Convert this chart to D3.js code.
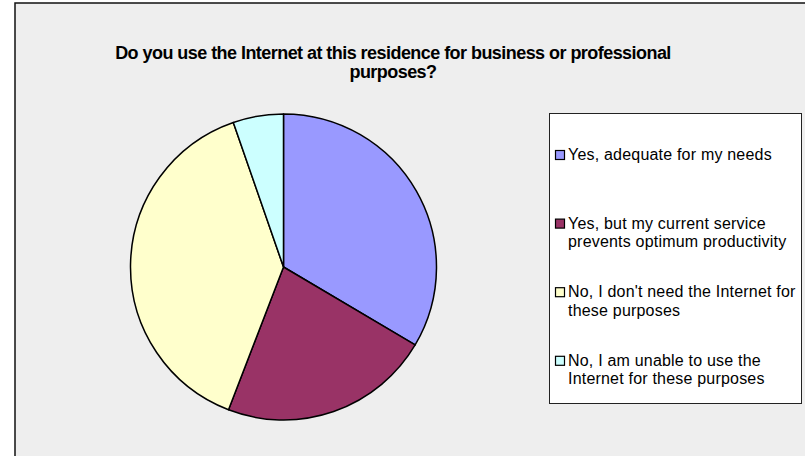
<!DOCTYPE html>
<html>
<head>
<meta charset="utf-8">
<script src="https://cdn.jsdelivr.net/npm/d3@7"></script>
<style>
  body { margin: 0; background: #fff; }
  svg { display: block; }
</style>
</head>
<body>
<svg id="chart" width="805" height="456"></svg>
<script>
const titleLines = ['Do you use the Internet at this residence for business or professional', 'purposes?']
const categories = [
  'Yes, adequate for my needs',
  'Yes, but my current service prevents optimum productivity',
  'No, I don\'t need the Internet for these purposes',
  'No, I am unable to use the Internet for these purposes'
]
// legend text wraps as in the original
const legendLines = [
  ['Yes, adequate for my needs'],
  ['Yes, but my current service', 'prevents optimum productivity'],
  ['No, I don\'t need the Internet for', 'these purposes'],
  ['No, I am unable to use the', 'Internet for these purposes']
]
const values = [63, 42, 73, 10]
const colors = ['#9999ff', '#993366', '#ffffcc', '#ccffff']

const svg = d3.select('#chart')

// chart area
svg.append('rect')
  .attr('x', 15)
  .attr('y', 3)
  .attr('width', 820)
  .attr('height', 480)
  .attr('fill', '#eeeeee')
  .attr('stroke', '#111')
  .attr('stroke-width', 1.5)

// title
svg.append('g')
  .selectAll('text')
  .data(titleLines)
  .enter()
  .append('text')
  .attr('x', 393)
  .attr('y', (d, i) => 59 + i * 19)
  .attr('text-anchor', 'middle')
  .attr('font-family', 'Liberation Sans, Arial, sans-serif')
  .attr('font-weight', 'bold')
  .attr('font-size', 18)
  .attr('letter-spacing', -0.55)
  .attr('fill', '#000')
  .text(d => d)

// pie
const cx = 283.5
const cy = 267
const radius = 153

const pie = d3.pie().sort(null).value(d => d)
const arc = d3.arc().innerRadius(0).outerRadius(radius)

svg.append('g')
  .attr('transform', `translate(${cx},${cy})`)
  .selectAll('path')
  .data(pie(values))
  .enter()
  .append('path')
  .attr('d', arc)
  .attr('fill', (d, i) => colors[i])
  .attr('stroke', '#000')
  .attr('stroke-width', 1.5)
  .attr('stroke-linejoin', 'round')

// legend
const legend = svg.append('g')

legend.append('rect')
  .attr('x', 549.5)
  .attr('y', 113.5)
  .attr('width', 252)
  .attr('height', 290)
  .attr('fill', '#fff')
  .attr('stroke', '#222')
  .attr('stroke-width', 1)

const itemY = d3.scaleLinear().domain([0, 1]).range([160, 228.6])

const items = legend.selectAll('.legend-item')
  .data(categories)
  .enter()
  .append('g')
  .attr('class', 'legend-item')
  .attr('transform', (d, i) => `translate(0,${itemY(i)})`)

items.append('rect')
  .attr('x', 555.5)
  .attr('y', -9.5)
  .attr('width', 9)
  .attr('height', 9)
  .attr('fill', (d, i) => colors[i])
  .attr('stroke', '#000')
  .attr('stroke-width', 1.2)

items.append('text')
  .attr('font-family', 'Liberation Sans, Arial, sans-serif')
  .attr('font-size', 16)
  .attr('letter-spacing', 0.2)
  .attr('fill', '#000')
  .selectAll('tspan')
  .data((d, i) => legendLines[i])
  .enter()
  .append('tspan')
  .attr('x', 568)
  .attr('y', (d, j) => j * 18.5)
  .text(d => d)
</script>
</body>
</html>
